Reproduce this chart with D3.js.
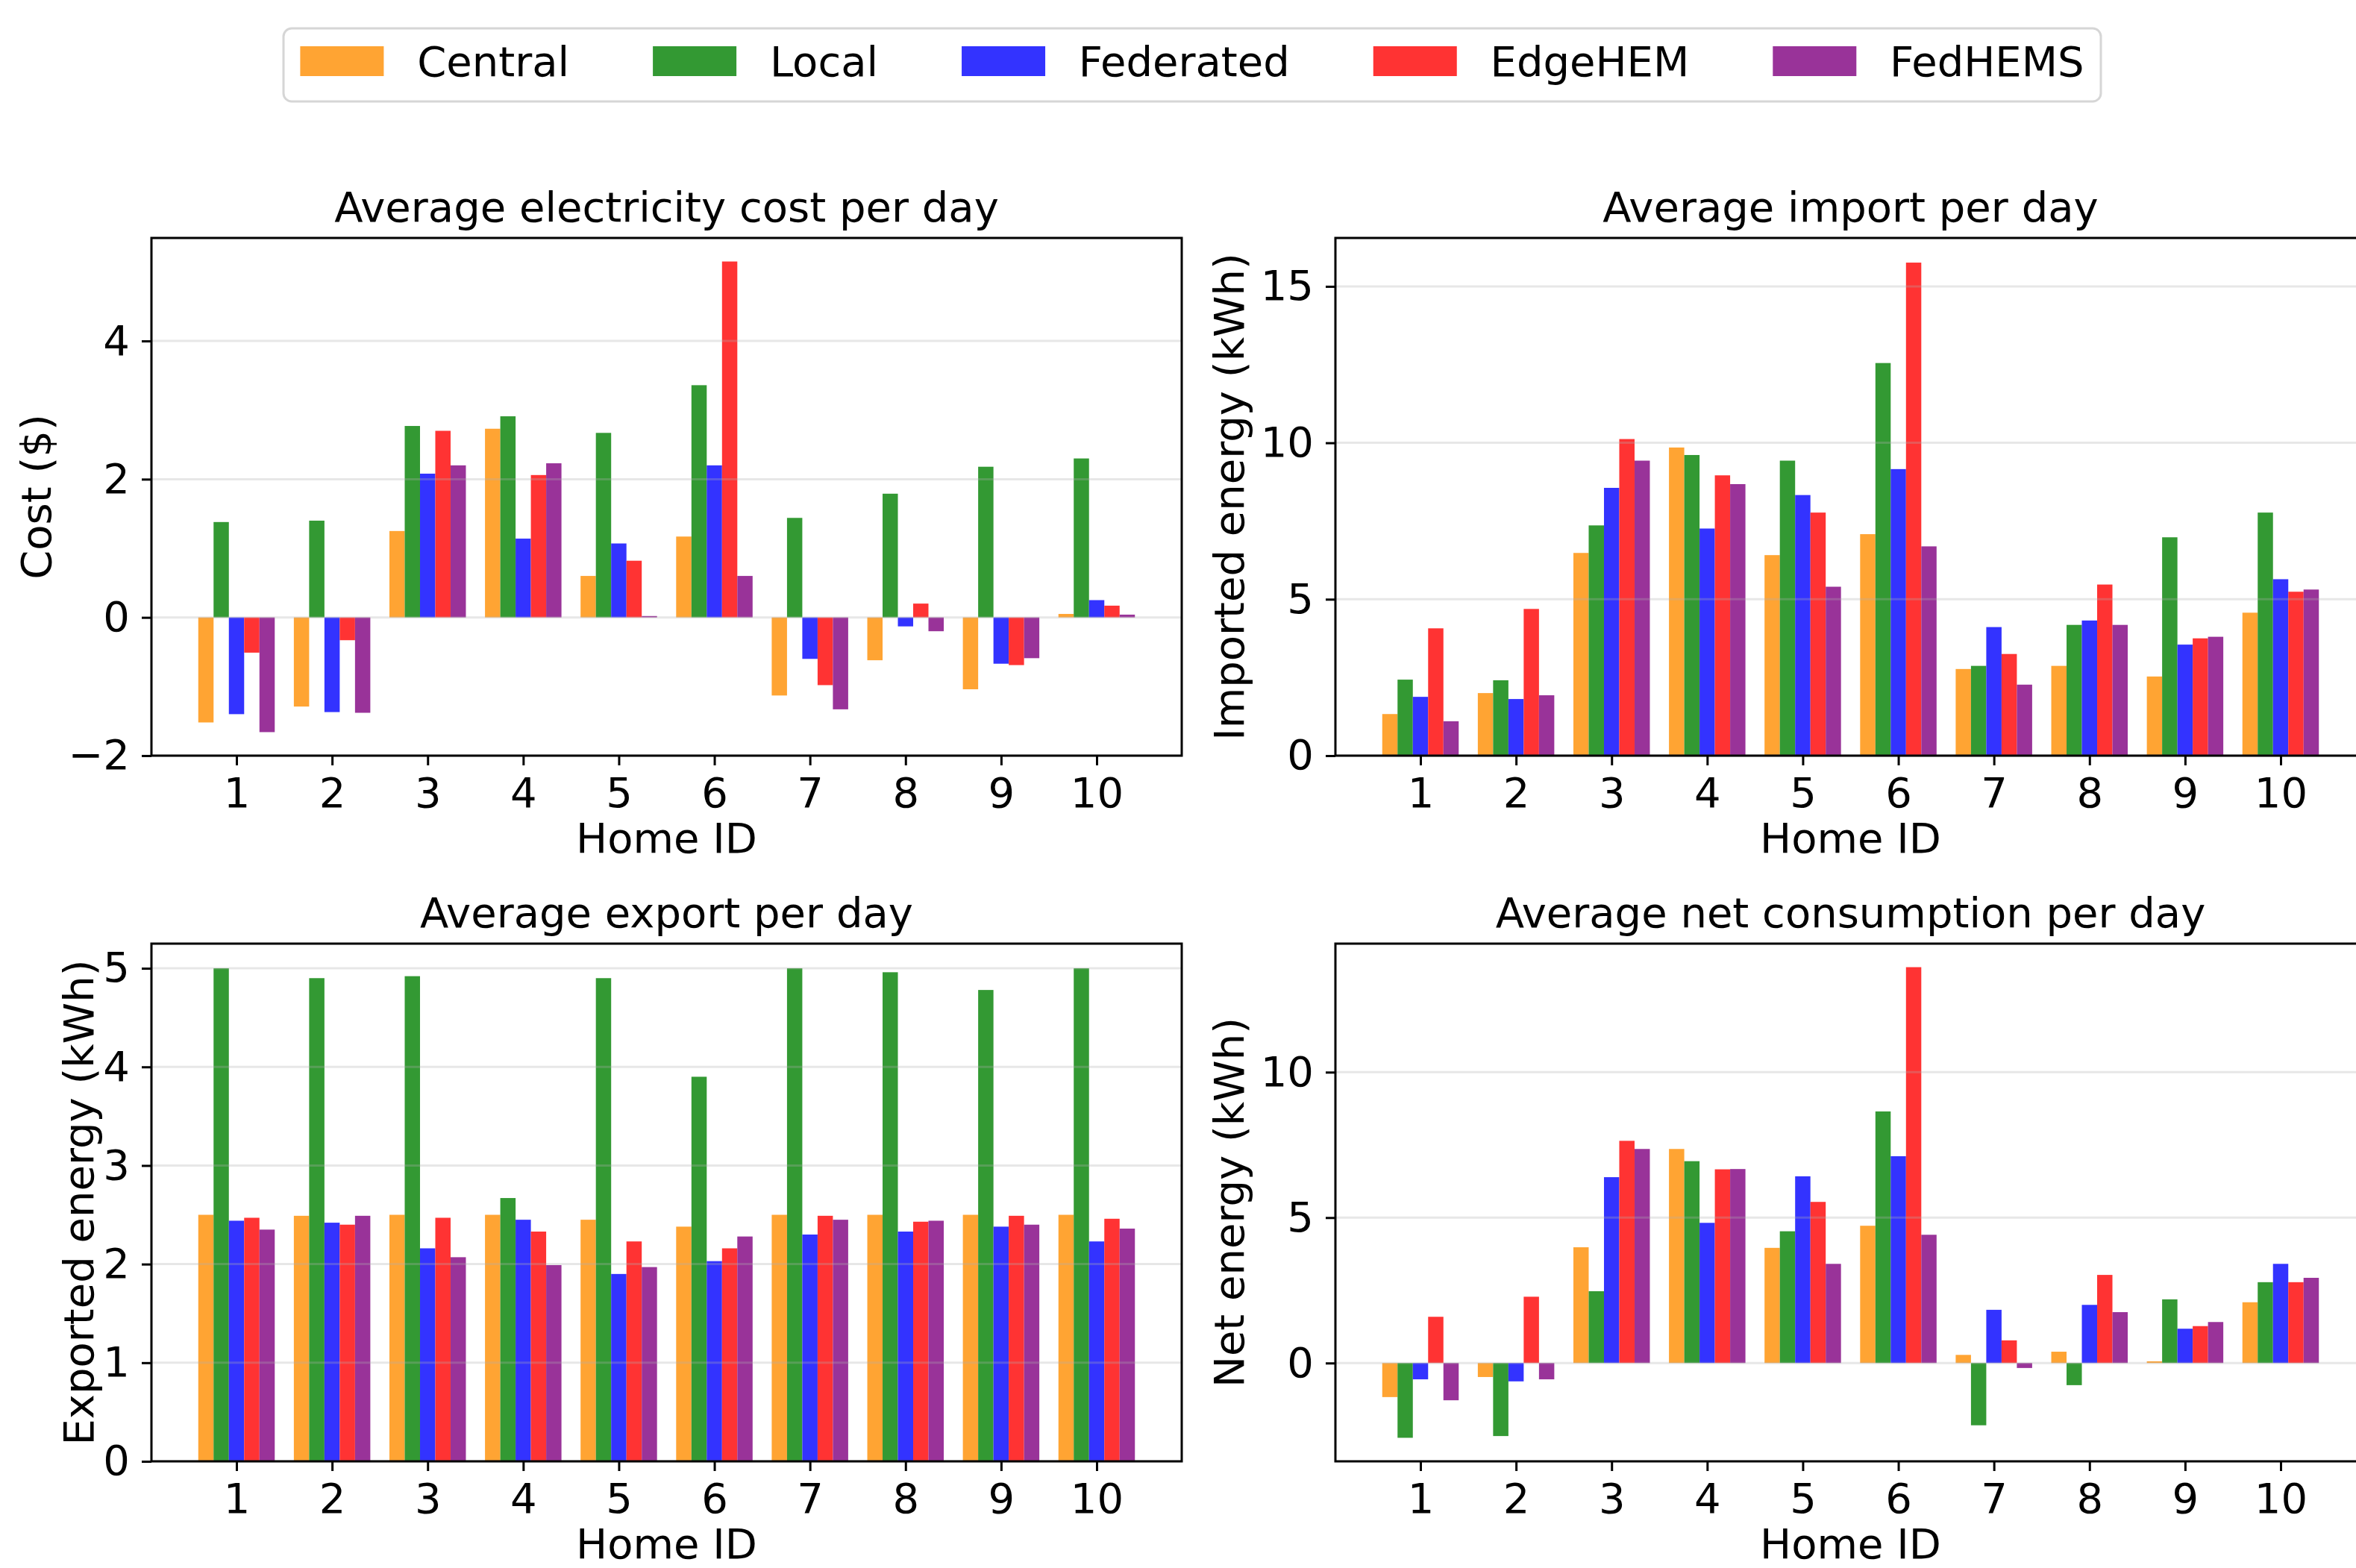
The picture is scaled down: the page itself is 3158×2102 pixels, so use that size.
<!DOCTYPE html>
<html>
<head>
<meta charset="utf-8">
<script src="https://cdn.jsdelivr.net/npm/d3@7/dist/d3.min.js"></script>
<style>
  body { margin: 0; background: #fff; }
  svg { display: block; font-family: 'DejaVu Sans', sans-serif; }
</style>
</head>
<body>
<div id="chart"></div>
<script>
// ----------------------------DATA-------------------------------//
const homes = [1, 2, 3, 4, 5, 6, 7, 8, 9, 10];
const methods = ['Central', 'Local', 'Federated', 'EdgeHEM', 'FedHEMS'];
const colors = ['#ffa433', '#339933', '#3333ff', '#ff3333', '#993399'];

const costCentral = [-1.52, -1.29, 1.25, 2.73, 0.60, 1.17, -1.13, -0.62, -1.04, 0.05];
const costLocal = [1.38, 1.40, 2.77, 2.91, 2.67, 3.36, 1.44, 1.79, 2.18, 2.30];
const costFederated = [-1.40, -1.37, 2.08, 1.14, 1.07, 2.20, -0.60, -0.13, -0.67, 0.25];
const costEdgeHEM = [-0.51, -0.33, 2.70, 2.06, 0.82, 5.15, -0.98, 0.20, -0.69, 0.17];
const costFedHEMS = [-1.66, -1.38, 2.20, 2.23, 0.02, 0.60, -1.33, -0.20, -0.59, 0.04];

const importCentral = [1.33, 2.00, 6.48, 9.85, 6.41, 7.08, 2.77, 2.87, 2.53, 4.57];
const importLocal = [2.43, 2.41, 7.36, 9.61, 9.43, 12.55, 2.87, 4.18, 6.98, 7.77];
const importFederated = [1.88, 1.81, 8.56, 7.26, 8.33, 9.16, 4.11, 4.32, 3.55, 5.64];
const importEdgeHEM = [4.07, 4.69, 10.12, 8.96, 7.77, 15.76, 3.25, 5.47, 3.75, 5.24];
const importFedHEMS = [1.10, 1.93, 9.43, 8.68, 5.40, 6.69, 2.27, 4.18, 3.80, 5.31];

const exportCentral = [2.50, 2.49, 2.50, 2.50, 2.45, 2.38, 2.50, 2.50, 2.50, 2.50];
const exportLocal = [5.00, 4.90, 4.92, 2.67, 4.90, 3.90, 5.00, 4.96, 4.78, 5.00];
const exportFederated = [2.44, 2.42, 2.16, 2.45, 1.90, 2.03, 2.30, 2.33, 2.38, 2.23];
const exportEdgeHEM = [2.47, 2.40, 2.47, 2.33, 2.23, 2.16, 2.49, 2.43, 2.49, 2.46];
const exportFedHEMS = [2.35, 2.49, 2.07, 1.99, 1.97, 2.28, 2.45, 2.44, 2.40, 2.36];

const netCentral = [-1.17, -0.48, 3.98, 7.36, 3.96, 4.72, 0.28, 0.39, 0.06, 2.09];
const netLocal = [-2.57, -2.51, 2.47, 6.94, 4.53, 8.65, -2.14, -0.76, 2.19, 2.78];
const netFederated = [-0.56, -0.63, 6.39, 4.82, 6.42, 7.11, 1.83, 2.00, 1.18, 3.41];
const netEdgeHEM = [1.59, 2.28, 7.64, 6.66, 5.54, 13.61, 0.78, 3.03, 1.27, 2.78];
const netFedHEMS = [-1.28, -0.56, 7.36, 6.67, 3.41, 4.41, -0.17, 1.75, 1.41, 2.93];

const costTicks = [-2, 0, 2, 4];
const importTicks = [0, 5, 10, 15];
const exportTicks = [0, 1, 2, 3, 4, 5];
const netTicks = [0, 5, 10];

const panels = [
  { title: 'Average electricity cost per day', ylabel: 'Cost ($)', ticks: costTicks,
    series: [costCentral, costLocal, costFederated, costEdgeHEM, costFedHEMS] },
  { title: 'Average import per day', ylabel: 'Imported energy (kWh)', ticks: importTicks,
    series: [importCentral, importLocal, importFederated, importEdgeHEM, importFedHEMS] },
  { title: 'Average export per day', ylabel: 'Exported energy (kWh)', ticks: exportTicks,
    series: [exportCentral, exportLocal, exportFederated, exportEdgeHEM, exportFedHEMS] },
  { title: 'Average net consumption per day', ylabel: 'Net energy (kWh)', ticks: netTicks,
    series: [netCentral, netLocal, netFederated, netEdgeHEM, netFedHEMS] },
];

// ----------------------------LAYOUT-----------------------------//
const width = 3158;
const height = 2102;
const fontSize = 56;
const barWidth = 0.16;
const axW = 1381;
const axH = 694;
const cols = [203, 1790];
const rows = [319, 1265];
const ylabelX = [68, 1667, 125, 1667];

const svg = d3.select('#chart').append('svg')
  .attr('width', width)
  .attr('height', height)
  .attr('viewBox', `0 0 ${width} ${height}`);

svg.append('rect')
  .attr('width', width)
  .attr('height', height)
  .attr('fill', '#fff');

// matplotlib-like autoscale with 5% margins, bars stick to 0
const padded = (lo, hi) => {
  const m = (hi - lo) * 0.05;
  return [lo === 0 ? 0 : lo - m, hi + m];
};

panels.forEach((p, k) => {
  const left = cols[k % 2];
  const top = rows[Math.floor(k / 2)];
  const g = svg.append('g').attr('transform', `translate(${left},${top})`);

  // ----------------------------SCALES-----------------------------//
  const xScale = d3.scaleLinear()
    .domain(padded(homes[0] - 0.4, homes[homes.length - 1] + 0.4))
    .range([0, axW]);
  const all = p.series.flat();
  const yScale = d3.scaleLinear()
    .domain(padded(Math.min(0, d3.min(all)), Math.max(0, d3.max(all))))
    .range([axH, 0]);

  // ----------------------------BARS-------------------------------//
  p.series.forEach((vals, i) => {
    g.append('g')
      .selectAll('rect')
      .data(vals)
      .enter()
      .append('rect')
      .attr('x', (d, j) => xScale(homes[j] + (i - 2) * barWidth - barWidth / 2))
      .attr('width', xScale(barWidth) - xScale(0))
      .attr('y', d => yScale(Math.max(0, d)))
      .attr('height', d => Math.abs(yScale(d) - yScale(0)))
      .attr('fill', colors[i]);
  });

  // grid drawn over the bars, faint
  g.append('g')
    .selectAll('line')
    .data(p.ticks)
    .enter()
    .append('line')
    .attr('x1', 0)
    .attr('x2', axW)
    .attr('y1', d => yScale(d))
    .attr('y2', d => yScale(d))
    .attr('stroke', '#b0b0b0')
    .attr('stroke-opacity', 0.3)
    .attr('stroke-width', 3);

  // -----------------------------AXES------------------------------//
  const xaxis = d3.axisBottom(xScale)
    .tickValues(homes)
    .tickFormat(d3.format('d'))
    .tickSize(13)
    .tickSizeOuter(0)
    .tickPadding(16);

  const yaxis = d3.axisLeft(yScale)
    .tickValues(p.ticks)
    .tickFormat(d3.format('d'))
    .tickSize(13)
    .tickSizeOuter(0)
    .tickPadding(16);

  [g.append('g').attr('transform', `translate(0,${axH})`).call(xaxis),
    g.append('g').call(yaxis)].forEach(a => {
    a.select('.domain').remove();
    a.selectAll('line').attr('stroke', '#000').attr('stroke-width', 3);
    a.selectAll('text')
      .attr('fill', '#000')
      .style('font-size', `${fontSize}px`)
      .style('font-family', "'DejaVu Sans', sans-serif");
  });

  g.append('rect')
    .attr('width', axW)
    .attr('height', axH)
    .attr('fill', 'none')
    .attr('stroke', '#000')
    .attr('stroke-width', 3);

  // ----------------------------LABELS-----------------------------//
  g.append('text')
    .attr('x', axW / 2)
    .attr('y', -22)
    .attr('text-anchor', 'middle')
    .style('font-size', `${fontSize}px`)
    .text(p.title);

  g.append('text')
    .attr('x', axW / 2)
    .attr('y', axH + 130)
    .attr('text-anchor', 'middle')
    .style('font-size', `${fontSize}px`)
    .text('Home ID');

  svg.append('text')
    .attr('transform', `translate(${ylabelX[k]},${top + axH / 2}) rotate(-90)`)
    .attr('text-anchor', 'middle')
    .style('font-size', `${fontSize}px`)
    .text(p.ylabel);
});

// ----------------------------LEGEND-----------------------------//
const legend = svg.append('g');
const frame = legend.append('rect')
  .attr('x', 380)
  .attr('y', 38)
  .attr('height', 98)
  .attr('rx', 11)
  .attr('fill', '#fff')
  .attr('stroke', '#d6d6d6')
  .attr('stroke-width', 3);

let cursor = 380 + 0.4 * fontSize;
methods.forEach((m, i) => {
  legend.append('rect')
    .attr('x', cursor)
    .attr('y', 62)
    .attr('width', 2 * fontSize)
    .attr('height', 40)
    .attr('fill', colors[i]);
  const t = legend.append('text')
    .attr('x', cursor + 2.8 * fontSize)
    .attr('y', 102)
    .style('font-size', `${fontSize}px`)
    .text(m);
  cursor += 2.8 * fontSize + t.node().getComputedTextLength();
  if (i < methods.length - 1) cursor += 2 * fontSize;
});
frame.attr('width', cursor + 0.4 * fontSize - 380);
</script>
</body>
</html>
